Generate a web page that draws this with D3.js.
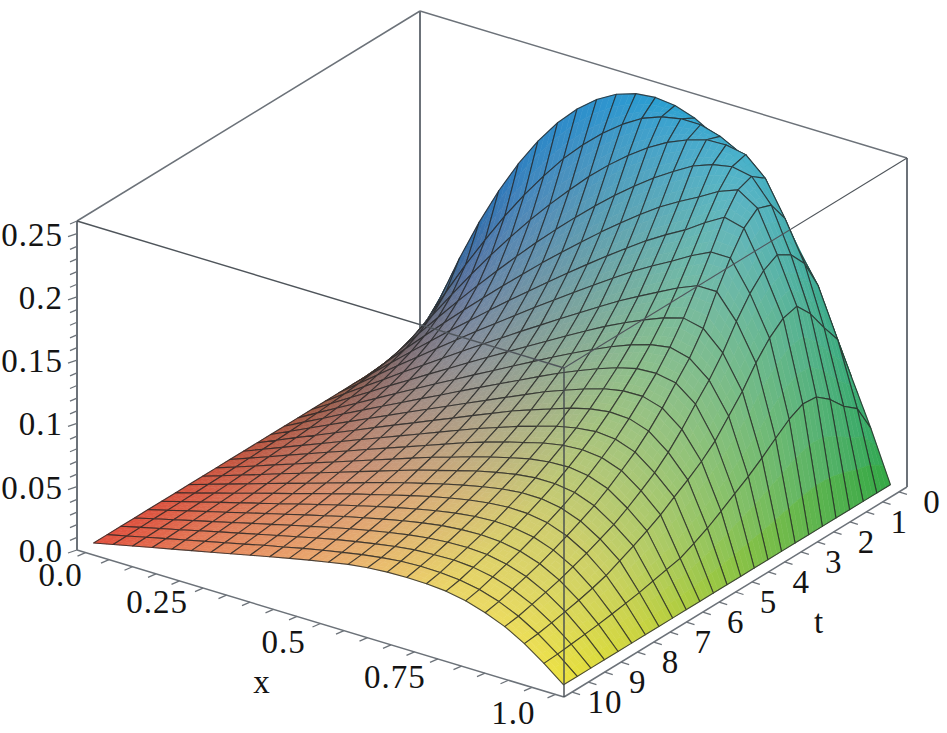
<!DOCTYPE html>
<html>
<head>
<meta charset="utf-8">
<script src="https://cdnjs.cloudflare.com/ajax/libs/d3/7.8.5/d3.min.js"></script>
<style>
  html, body { margin: 0; padding: 0; background: #fff; }
  text { font-family: "Liberation Serif", serif; font-size: 33px; fill: #141414; }
</style>
</head>
<body>
<svg id="plot" width="947" height="733"></svg>
<script>
// mesh positions, 25 x 25 like the plot
const xGrid = d3.range(25).map(k => k / 24)
const tGrid = d3.range(25).map(j => j * 10 / 24)

// heights, one row per t (t = 0 first), x = 0 .. 1 in each row
const zRows = [
  [0,.0399,.0764,.1094,.1389,.1649,.1875,.2066,.2222,.2344,.2431,.2483,.25,.2483,.2431,.2344,.2222,.2066,.1875,.1649,.1389,.1094,.0764,.0399,0],
  [0,.0285,.056,.0822,.1067,.13,.1515,.1712,.1895,.2052,.2189,.2306,.24,.2459,.249,.249,.2445,.2365,.222,.2,.174,.15,.112,.062,0],
  [0,.0225,.0443,.0655,.0861,.106,.1249,.143,.16,.176,.1913,.205,.2173,.228,.237,.2435,.2484,.249,.246,.232,.205,.174,.128,.0705,0],
  [0,.0183,.0364,.054,.0714,.0883,.1048,.1208,.1364,.1513,.1656,.1793,.1922,.2042,.2154,.2253,.2342,.24,.243,.24,.222,.1875,.1455,.0825,0],
  [0,.0155,.0308,.046,.0609,.0756,.09,.1042,.118,.1316,.1447,.1575,.1699,.1817,.1931,.2037,.2128,.221,.23,.236,.226,.194,.158,.091,0],
  [0,.0134,.0268,.04,.0531,.066,.0787,.0913,.1037,.1158,.1278,.1395,.151,.1622,.1731,.1836,.193,.2016,.212,.221,.217,.188,.155,.092,0],
  [0,.0119,.0237,.0354,.0469,.0584,.0698,.0811,.0922,.1032,.1141,.1248,.1354,.1458,.156,.1659,.175,.1834,.1925,.2,.2,.1765,.146,.0864,0],
  [0,.0106,.0209,.0312,.0417,.0517,.062,.0722,.0822,.092,.1019,.1115,.1212,.1306,.1401,.1492,.1576,.1656,.1735,.18,.18,.161,.133,.078,0],
  [0,.0095,.0188,.0281,.0376,.0467,.056,.0651,.0743,.0834,.0923,.1012,.11,.1188,.1275,.1358,.1433,.1503,.1565,.161,.1575,.1428,.117,.069,0],
  [0,.0086,.0172,.0256,.0341,.0426,.051,.0594,.0677,.076,.0842,.0924,.1005,.1086,.1165,.1239,.1309,.1371,.142,.1445,.1405,.1279,.104,.061,0],
  [0,.0079,.0157,.0236,.0314,.0391,.0468,.0545,.0621,.0698,.0774,.0849,.0924,.0999,.1073,.1139,.1202,.1256,.1296,.1305,.1275,.1155,.091,.054,0],
  [0,.0073,.0145,.0217,.0289,.036,.0432,.0503,.0573,.0644,.0714,.0784,.0854,.0923,.0992,.1051,.1107,.1156,.1186,.1189,.1143,.1022,.0815,.0468,0],
  [0,.0067,.0135,.0201,.0267,.0334,.0401,.0467,.0532,.0598,.0663,.0729,.0794,.0859,.0915,.0968,.1022,.1063,.1086,.1079,.1027,.0906,.0735,.04,0],
  [0,.0062,.0124,.0186,.0248,.0311,.0373,.0434,.0495,.0557,.0618,.0679,.074,.0795,.085,.0898,.0945,.0978,.0996,.0982,.0927,.081,.0665,.0345,0],
  [0,.0058,.0116,.0175,.0233,.0291,.0348,.0406,.0464,.0521,.0578,.0636,.0693,.0745,.0793,.0836,.0878,.0907,.0918,.0902,.0846,.0734,.059,.0293,0],
  [0,.0054,.0109,.0164,.0218,.0273,.0327,.0382,.0436,.049,.0544,.0598,.0645,.0695,.074,.0781,.0819,.0841,.0847,.0826,.0769,.0662,.053,.027,0],
  [0,.0051,.0103,.0154,.0206,.0257,.0308,.0359,.041,.0461,.0512,.0563,.0607,.0652,.0695,.0731,.0762,.0781,.0782,.0759,.0701,.0599,.0476,.0245,0],
  [0,.0049,.0097,.0146,.0195,.0243,.0291,.0339,.0387,.0436,.0484,.0528,.057,.0612,.065,.0684,.0713,.0729,.0728,.0702,.0645,.0549,.0425,.0221,0],
  [0,.0046,.0092,.0138,.0184,.023,.0275,.0321,.0367,.0413,.0455,.0497,.0539,.0579,.0614,.0645,.0668,.0681,.0677,.0651,.0594,.0504,.0375,.0201,0],
  [0,.0044,.0087,.0131,.0174,.0218,.0261,.0305,.0348,.0391,.0431,.0472,.051,.0546,.0579,.0607,.0627,.0636,.063,.0603,.0548,.0462,.034,.0183,0],
  [0,.0042,.0083,.0125,.0166,.0208,.0249,.029,.0332,.0372,.0412,.0449,.0485,.0519,.0549,.0574,.0589,.0595,.0587,.0559,.0506,.0424,.0311,.0167,0],
  [0,.004,.0079,.0119,.0158,.0198,.0237,.0276,.0316,.0354,.0392,.0428,.0461,.0492,.052,.0542,.0555,.056,.0551,.0522,.0471,.0393,.0287,.0154,0],
  [0,.0038,.0076,.0113,.0151,.0189,.0226,.0264,.0301,.0338,.0374,.0408,.0439,.0468,.0494,.0514,.0523,.0527,.0516,.0487,.0437,.0364,.0264,.0142,0],
  [0,.0036,.0073,.0108,.0144,.018,.0216,.0252,.0289,.0323,.0358,.039,.042,.0449,.0472,.049,.0498,.0494,.0482,.0453,.0405,.0336,.0244,.013,0],
  [0,.0035,.0069,.0104,.0138,.0173,.0207,.0242,.0277,.0311,.0345,.0378,.0408,.0438,.0458,.047,.0474,.0472,.046,.043,.0383,.032,.0232,.0123,0]
]

const xTicks = d3.range(0, 21).map(i => i * 0.05)
const tTicks = d3.range(0, 21).map(i => i * 0.5)
const zTicks = d3.range(0, 27).map(i => i * 0.01)
const xLabels = [[0, '0.0'], [0.25, '0.25'], [0.5, '0.5'], [0.75, '0.75'], [1, '1.0']]
const tLabels = [0, 1, 2, 3, 4, 5, 6, 7, 8, 9, 10]
const zLabels = [[0, '0.0'], [0.05, '0.05'], [0.1, '0.1'], [0.15, '0.15'], [0.2, '0.2'], [0.25, '0.25']]

const redT = [0, 0.5, 1, 2, 3, 5, 7.5, 10],
      redAtX0 = [48, 85, 105, 130, 150, 185, 216, 226],
      redAtMid = [42, 62, 78, 105, 128, 170, 217, 234],
      redAtX1 = [52, 62, 72, 90, 108, 146, 200, 236],
      greenX = [0, 0.25, 0.5, 0.75, 1],
      greenNear = [80, 135, 172, 214, 226],  // t = 10
      greenFar = [88, 135, 158, 174, 168],   // t = 0
      blueZ = [0, 0.02, 0.04, 0.08, 0.15, 0.25],
      blueLow = [62, 92, 118, 160, 188, 214],   // small x
      blueHigh = [62, 84, 100, 118, 148, 205]   // large x

const svg = d3.select('#plot')

// the box is drawn in parallel projection, corners on screen
const org = [77, 550], ux = [487, 147], ut = [343, -210], uz = [0, -329]

// surface sits a little inside the box
const sx = d3.scaleLinear().domain([-0.0181, 1.0181]).range([0, 1]),
      st = d3.scaleLinear().domain([10.247, -0.247]).range([0, 1]),
      sz = d3.scaleLinear().domain([0, 0.26]).range([0, 1]),
      lift = 0.0037

const crL = d3.scaleLinear().domain(redT).range(redAtX0),
      crM = d3.scaleLinear().domain(redT).range(redAtMid),
      crR = d3.scaleLinear().domain(redT).range(redAtX1),
      cgNear = d3.scaleLinear().domain(greenX).range(greenNear),
      cgFar = d3.scaleLinear().domain(greenX).range(greenFar),
      cbL = d3.scaleLinear().domain(blueZ).range(blueLow),
      cbH = d3.scaleLinear().domain(blueZ).range(blueHigh),
      bMix = d3.scaleLinear().domain([0.25, 0.75]).range([0, 1]).clamp(true)

function _unit(u, v, w) {
  return [org[0] + u * ux[0] + v * ut[0] + w * uz[0],
          org[1] + u * ux[1] + v * ut[1] + w * uz[1]]
}
function _pt(x, t, z) { return _unit(sx(x), st(t), sz(z)) }

function _color(x, t, z) {
  let r = x < 0.5 ? crL(t) + (crM(t) - crL(t)) * x * 2 : crM(t) + (crR(t) - crM(t)) * (x - 0.5) * 2,
      g = cgFar(x) + (cgNear(x) - cgFar(x)) * t / 10,
      b = cbL(z) + (cbH(z) - cbL(z)) * bMix(x)
  return d3.rgb(r, g, b).formatHex()
}

function _edge(g, a, b, w, col) {
  g.append('line')
    .attr('x1', a[0]).attr('y1', a[1])
    .attr('x2', b[0]).attr('y2', b[1])
    .attr('stroke', col).attr('stroke-width', w)
}

const boxCol = '#6c7279'
let back = svg.append('g')
_edge(back, _unit(0, 1, 0), _unit(0, 1, 1), 2, boxCol)
_edge(back, _unit(0, 0, 1), _unit(0, 1, 1), 1.5, boxCol)
_edge(back, _unit(0, 1, 1), _unit(1, 1, 1), 1.5, boxCol)
_edge(back, _unit(0, 0, 0), _unit(0, 0, 1), 2, boxCol)
_edge(back, _unit(1, 1, 0), _unit(1, 1, 1), 2, boxCol)
_edge(back, _unit(0, 0, 0), _unit(1, 0, 0), 1.5, boxCol)
_edge(back, _unit(1, 0, 0), _unit(1, 1, 0), 1.5, boxCol)

// ticks
xTicks.forEach(v => {
  let p = _unit(sx(v), 0, 0)
  _edge(back, p, [p[0] - 8, p[1] + 3.5], 1.3, boxCol)
})
tTicks.forEach(v => {
  let p = _unit(1, st(v), 0)
  _edge(back, p, [p[0] + 8, p[1] + 2.5], 1.3, boxCol)
})
zTicks.forEach((v, i) => {
  let p = _unit(0, 0, sz(v)), m = i % 5 == 0 ? 9 : 7
  _edge(back, p, [p[0] - m, p[1] + 3], 1.3, boxCol)
})

// painter's order, far corner (x = 0, t = 0) first
let cells = []
d3.range(24).forEach(j => d3.range(24).forEach(i => cells.push({ i: i, j: j })))

const line = d3.line(),
      sub = 3 // fill patches per cell side, so the colour runs smooth

// a spot inside a cell, corners blended; only used to shade the fill
function _inside(c, a, b) {
  let z = zRows[c.j][c.i] * (1 - a) * (1 - b) + zRows[c.j][c.i + 1] * a * (1 - b) +
          zRows[c.j + 1][c.i] * (1 - a) * b + zRows[c.j + 1][c.i + 1] * a * b
  return { x: xGrid[c.i] + a * (xGrid[c.i + 1] - xGrid[c.i]),
           t: tGrid[c.j] + b * (tGrid[c.j + 1] - tGrid[c.j]), z: z }
}

let surface = svg.append('g')
cells.forEach(c => {
  let g = surface.append('g')
  d3.range(sub).forEach(m => d3.range(sub).forEach(n => {
    let q = [[m, n], [m + 1, n], [m + 1, n + 1], [m, n + 1]].map(d => {
          let s = _inside(c, d[0] / sub, d[1] / sub)
          return _pt(s.x, s.t, s.z + lift)
        }),
        s = _inside(c, (m + 0.5) / sub, (n + 0.5) / sub),
        col = _color(s.x, s.t, s.z)
    g.append('path').attr('d', line(q) + 'Z')
      .attr('fill', col).attr('stroke', col).attr('stroke-width', 0.6)
  }))
  let q = [[c.i, c.j], [c.i + 1, c.j], [c.i + 1, c.j + 1], [c.i, c.j + 1]]
    .map(n => _pt(xGrid[n[0]], tGrid[n[1]], zRows[n[1]][n[0]] + lift))
  g.append('path').attr('d', line(q) + 'Z')
    .attr('fill', 'none')
    .attr('stroke', '#242424')
    .attr('stroke-width', 1.1)
    .attr('stroke-opacity', 0.8)
    .attr('stroke-linejoin', 'round')
})

// front edges of the box lie over the surface
let front = svg.append('g')
_edge(front, _unit(0, 0, 1), _unit(1, 0, 1), 1.4, '#4f555b')
_edge(front, _unit(1, 0, 1), _unit(1, 1, 1), 1.1, '#4f555b')
_edge(front, _unit(1, 0, 0), _unit(1, 0, 1), 1.4, '#454b51')

// labels
let lab = svg.append('g')
function _label(p, s, anchor) {
  lab.append('text')
    .attr('x', p[0]).attr('y', p[1])
    .attr('text-anchor', anchor || 'middle')
    .attr('dominant-baseline', 'central')
    .attr('letter-spacing', 1)
    .text(s)
}
const xOffset = [[-25, 22], [-46, 14], [-37, 18], [-43, 18], [-42, 19]]
xLabels.forEach((d, i) => {
  let p = _unit(sx(d[0]), 0, 0)
  _label([p[0] + xOffset[i][0], p[1] + xOffset[i][1]], d[1])
})
tLabels.forEach(d => {
  let p = _unit(1, st(d), 0)
  _label([p[0] + 33, p[1] + 10], String(d))
})
zLabels.forEach(d => {
  let p = _unit(0, 0, sz(d[0]))
  _label([63, p[1] + 1], d[1], 'end')
})
_label([262, 682], 'x')
_label([819, 622], 't')
</script>
</body>
</html>
